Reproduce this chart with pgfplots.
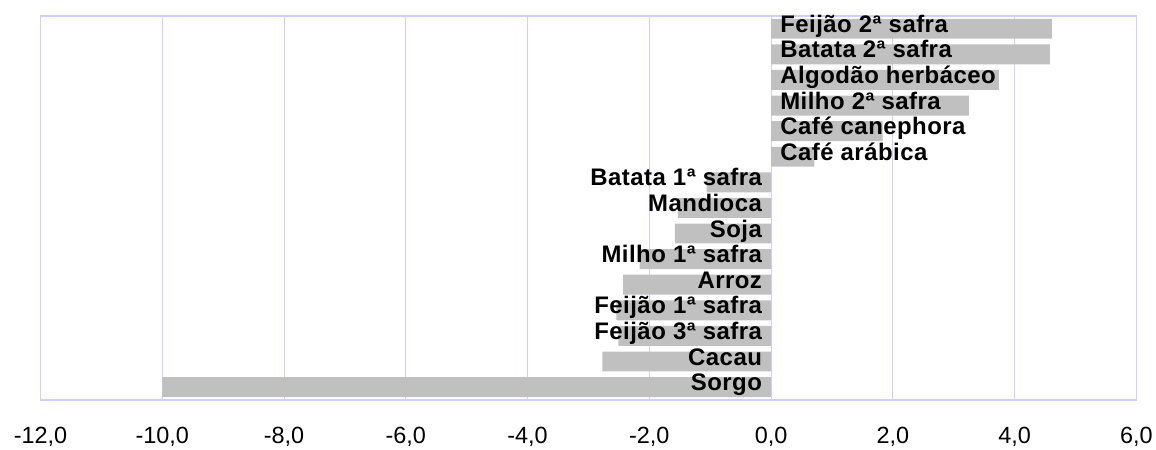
\documentclass[border=0pt]{standalone}
\usepackage{pgfplots}
\pgfplotsset{compat=1.18}
\usepackage{fontspec}
\setmainfont{Liberation Sans}
\newfontfamily\lblfont[LetterSpace=2]{Liberation Sans}
\definecolor{bargray}{RGB}{192,192,192}
\definecolor{gridlav}{RGB}{208,208,255}

\begin{document}
\begin{tikzpicture}
\begin{axis}[
  scale only axis, width=1099bp, height=385bp,
  xmin=-12, xmax=6, ymin=-0.5, ymax=14.5,
  xtick={-12,-10,...,6}, ytick=\empty,
  xmajorgrids, major grid style={gridlav, line width=1bp},
  axis line style={gridlav, line width=1.5bp},
  major tick length=0pt,
  /pgf/number format/.cd, fixed, fixed zerofill, precision=1, use comma, assume math mode=true,
  /pgfplots/.cd,
  xticklabel style={font=\fontsize{23.5bp}{28bp}\selectfont, yshift=-24bp},
]
% bars, top to bottom: y=14 ... 0
\addplot[xbar, bar width=20bp, draw=none, fill=bargray] coordinates {
  (4.61,14) (4.58,13) (3.74,12) (3.25,11) (1.83,10) (0.71,9)
  (-1.06,8) (-1.53,7) (-1.58,6) (-2.16,5) (-2.43,4) (-2.54,3)
  (-2.51,2) (-2.77,1) (-10.0,0)
};
% labels for positive bars
\addplot[only marks, mark size=0pt, draw=none, nodes near coords, point meta=explicit symbolic,
  nodes near coords style={anchor=west, inner sep=0pt, xshift=9bp, text=black,
    font=\lblfont\bfseries\fontsize{24bp}{28bp}\selectfont, text height=0.716em, text depth=0pt}]
coordinates {
  (0,14) [Feijão 2ª safra]
  (0,13) [Batata 2ª safra]
  (0,12) [Algodão herbáceo]
  (0,11) [Milho 2ª safra]
  (0,10) [Café canephora]
  (0,9) [Café arábica]
};
% labels for negative bars
\addplot[only marks, mark size=0pt, draw=none, nodes near coords, point meta=explicit symbolic,
  nodes near coords style={anchor=east, inner sep=0pt, xshift=-9bp, text=black,
    font=\lblfont\bfseries\fontsize{24bp}{28bp}\selectfont, text height=0.716em, text depth=0pt}]
coordinates {
  (0,8) [Batata 1ª safra]
  (0,7) [Mandioca]
  (0,6) [Soja]
  (0,5) [Milho 1ª safra]
  (0,4) [Arroz]
  (0,3) [Feijão 1ª safra]
  (0,2) [Feijão 3ª safra]
  (0,1) [Cacau]
  (0,0) [Sorgo]
};
\end{axis}
\path (-40.6bp,-50bp) rectangle (1116bp,401bp);
\end{tikzpicture}
\end{document}
